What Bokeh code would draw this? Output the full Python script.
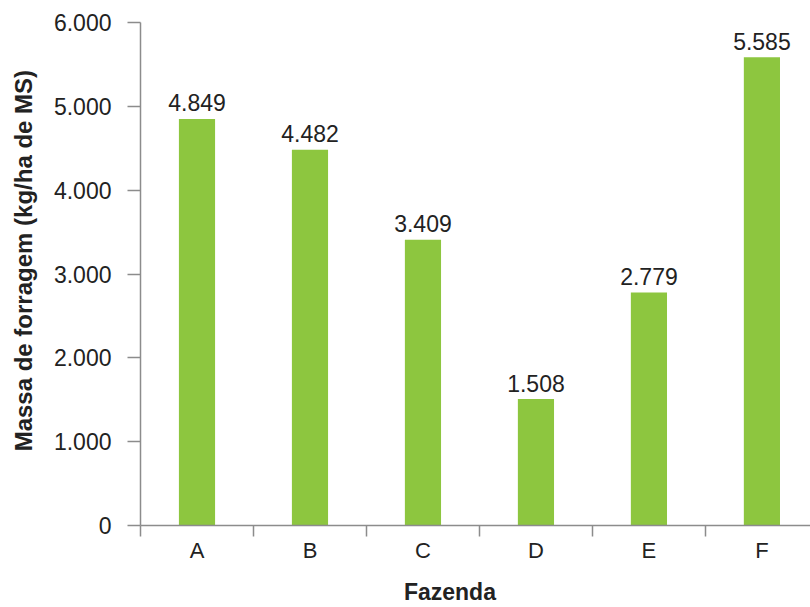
from bokeh.plotting import figure
from bokeh.models import ColumnDataSource, FixedTicker, Range1d
from bokeh.core.properties import value
from bokeh.embed import file_html
from bokeh.resources import INLINE

# Forage mass per farm
fazendas = ["A", "B", "C", "D", "E", "F"]
massa = [4849, 4482, 3409, 1508, 2779, 5585]
y_ticks = [0, 1000, 2000, 3000, 4000, 5000, 6000]

x_title = "Fazenda"
y_title = "Massa de forragem (kg/ha de MS)"

def fmt(v):
    return f"{v:,}".replace(",", ".")

centers = [i + 0.5 for i in range(len(fazendas))]
src = ColumnDataSource(dict(
    x=centers,
    top=massa,
    label=[fmt(v) for v in massa],
))

FONT = "Liberation Sans"
TXT = "#222222"
AX = "#8c8c8c"
NBSP = "\u00a0"

p = figure(
    width=810, height=607,
    x_range=Range1d(0, 5.93), y_range=Range1d(0, 6000),
    output_backend="svg", toolbar_location=None,
    min_border_left=140, min_border_right=0,
    min_border_top=22, min_border_bottom=82,
)
p.outline_line_color = None
p.xgrid.visible = False
p.ygrid.visible = False
p.background_fill_color = "white"
p.border_fill_color = "white"

p.vbar(x="x", top="top", width=0.32, bottom=0, source=src,
       fill_color="#8dc63f", line_color=None)

p.text(x="x", y="top", text="label", source=src,
       text_align="center", text_baseline="alphabetic", y_offset=-16,
       text_font=value(FONT), text_font_size="23px", text_color=TXT)

# x axis: category labels at bar centres, boundary ticks as minor ticks
xa = p.xaxis[0]
xa.ticker = FixedTicker(ticks=centers, minor_ticks=list(range(len(fazendas) + 1)))
xa.major_label_overrides = {c: f for c, f in zip(centers, fazendas)}
xa.major_tick_out = 0
xa.major_tick_in = 0
xa.minor_tick_out = 11
xa.minor_tick_in = 0
xa.minor_tick_line_color = AX
xa.minor_tick_line_width = 1.5
xa.axis_line_color = AX
xa.axis_line_width = 1.5
xa.major_label_standoff = 1
xa.major_label_text_font = FONT
xa.major_label_text_font_size = "22px"
xa.major_label_text_color = TXT
# trailing no-break spaces pull the centred title a little to the left
xa.axis_label = x_title + NBSP * 8
xa.axis_label_text_font = FONT
xa.axis_label_text_font_style = "bold"
xa.axis_label_text_font_size = "23px"
xa.axis_label_text_color = TXT
xa.axis_label_standoff = 13

ya = p.yaxis[0]
ya.ticker = FixedTicker(ticks=y_ticks, minor_ticks=[])
ya.major_label_overrides = {t: fmt(t) for t in y_ticks}
ya.major_tick_out = 13
ya.major_tick_in = 0
ya.major_tick_line_color = AX
ya.major_tick_line_width = 1.5
ya.minor_tick_out = 0
ya.minor_tick_in = 0
ya.axis_line_color = AX
ya.axis_line_width = 1.5
ya.major_label_standoff = 16
ya.major_label_text_font = FONT
ya.major_label_text_font_size = "23px"
ya.major_label_text_color = TXT
# leading no-break spaces lift the rotated title slightly
ya.axis_label = NBSP * 4 + y_title
ya.axis_label_text_font = FONT
ya.axis_label_text_font_style = "bold"
ya.axis_label_text_font_size = "24px"
ya.axis_label_text_color = TXT
ya.axis_label_standoff = 14

open("out.html", "w").write(file_html(p, INLINE))
